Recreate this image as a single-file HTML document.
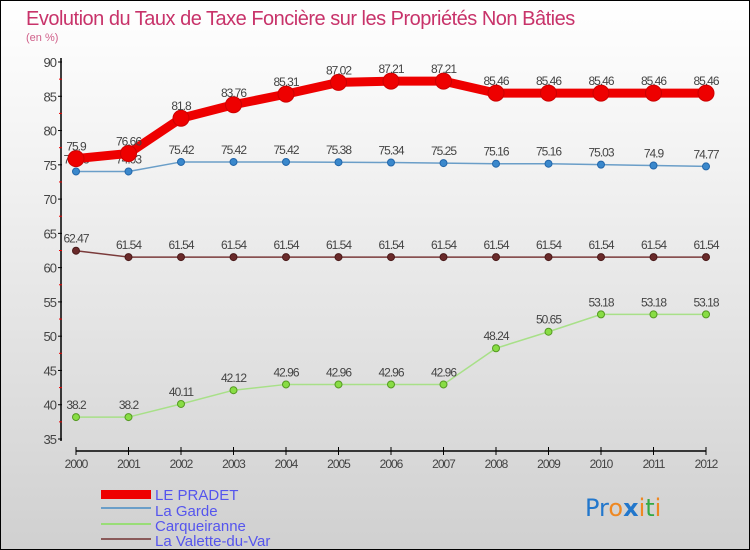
<!DOCTYPE html>
<html><head><meta charset="utf-8"><style>
body{margin:0}
#c{width:748px;height:548px;border:1px solid #000;background:linear-gradient(#fff,#f2f2f2 30%,#d0d0d0);position:relative;overflow:hidden;font-family:"Liberation Sans",sans-serif}
</style></head><body>
<div id="c">
<svg id="s" width="748" height="548">
<text x="25" y="24" font-size="20" fill="#c8336a" letter-spacing="-0.5">Evolution du Taux de Taxe Foncière sur les Propriétés Non Bâties</text>
<text x="25" y="40" font-size="11" fill="#d0608a">(en %)</text>
<g id="axes"></g><g id="series"></g>
<g>
<rect x="100" y="489" width="50" height="9" fill="#e00"/>
<text x="154" y="499" font-size="15" fill="#5555ee">LE PRADET</text>
<rect x="100" y="506" width="50" height="2" fill="#6a9ec8"/>
<text x="154" y="515" font-size="15" fill="#5555ee">La Garde</text>
<rect x="100" y="522" width="50" height="2" fill="#99dd77"/>
<text x="154" y="530" font-size="15" fill="#5555ee">Carqueiranne</text>
<rect x="100" y="537" width="50" height="2" fill="#8a5a5a"/>
<text x="154" y="545" font-size="15" fill="#5555ee">La Valette-du-Var</text>
</g>
<text x="584" y="515" font-size="24" font-family="DejaVu Sans"><tspan fill="#2277cc">Pr</tspan><tspan fill="#ee8822">o</tspan><tspan fill="#2277cc" font-weight="bold">x</tspan><tspan fill="#ee8822">i</tspan><tspan fill="#33aa44">t</tspan><tspan fill="#ee8822">i</tspan></text>
</svg></div>
<script>
const years=[2000,2001,2002,2003,2004,2005,2006,2007,2008,2009,2010,2011,2012];
const pradet=[75.9,76.66,81.8,83.76,85.31,87.02,87.21,87.21,85.46,85.46,85.46,85.46,85.46];
const garde=[74.03,74.03,75.42,75.42,75.42,75.38,75.34,75.25,75.16,75.16,75.03,74.9,74.77];
const carq=[38.2,38.2,40.11,42.12,42.96,42.96,42.96,42.96,48.24,50.65,53.18,53.18,53.18];
const valette=[62.47,61.54,61.54,61.54,61.54,61.54,61.54,61.54,61.54,61.54,61.54,61.54,61.54];
const yTicks=[35,40,45,50,55,60,65,70,75,80,85,90];
const NS="http://www.w3.org/2000/svg";
const X=i=>75+i*52.5, Y=v=>61+(90-v)*(377/55);
function mk(t,a,p){const e=document.createElementNS(NS,t);for(const k in a)e.setAttribute(k,a[k]);p.appendChild(e);return e;}
const ax=document.getElementById('axes'),se=document.getElementById('series');
let e=mk('line',{x1:60,y1:57,x2:60,y2:440,stroke:'#000','stroke-width':1.5},ax);

e=mk('line',{x1:75,y1:450,x2:705,y2:450,stroke:'#000','stroke-width':1.5},ax);

yTicks.forEach(v=>{mk('line',{x1:57,x2:61,y1:Y(v),y2:Y(v),stroke:'#000'},ax);
 if(v<90)mk('line',{x1:58,x2:61,y1:Y(v+2.5),y2:Y(v+2.5),stroke:'#e00'},ax);
 const t=mk('text',{x:55,y:Y(v)+5,'font-size':13,fill:'#444','text-anchor':'end','letter-spacing':'-1'},ax);t.textContent=v;
 });
years.forEach((y,i)=>{mk('line',{x1:X(i),x2:X(i),y1:446,y2:454,stroke:'#000'},ax);
 const t=mk('text',{x:X(i),y:467,'font-size':12,fill:'#444','text-anchor':'middle','letter-spacing':'-1'},ax);t.textContent=y;
 });
function series(d,name,col,w,r,dot,stroke){
 const g=mk('g',{},se);
 mk('polyline',{points:d.map((v,i)=>X(i)+','+Y(v)).join(' '),fill:'none',stroke:col,'stroke-width':w,'stroke-linejoin':'round'},g);
 d.forEach((v,i)=>{const c=mk('circle',{cx:X(i),cy:Y(v),r:r,fill:dot,stroke:stroke},g);
  
  const t=mk('text',{x:X(i),y:Y(v)-8,'font-size':12,fill:'#444','text-anchor':'middle','letter-spacing':'-1'},g);t.textContent=v;
  });}
series(valette,'la-valette','#7a3a3a',1.5,3.5,'#6a2a2a','#4a1a1a');
series(carq,'carqueiranne','#a8e088',1.5,3.5,'#88dd44','#559922');
series(garde,'la-garde','#6a9ec8',1.5,3.5,'#3a88cc','#2266aa');
series(pradet,'le-pradet','#ee0000',9,8,'#ee0000','#cc0000');
</script></body></html>
